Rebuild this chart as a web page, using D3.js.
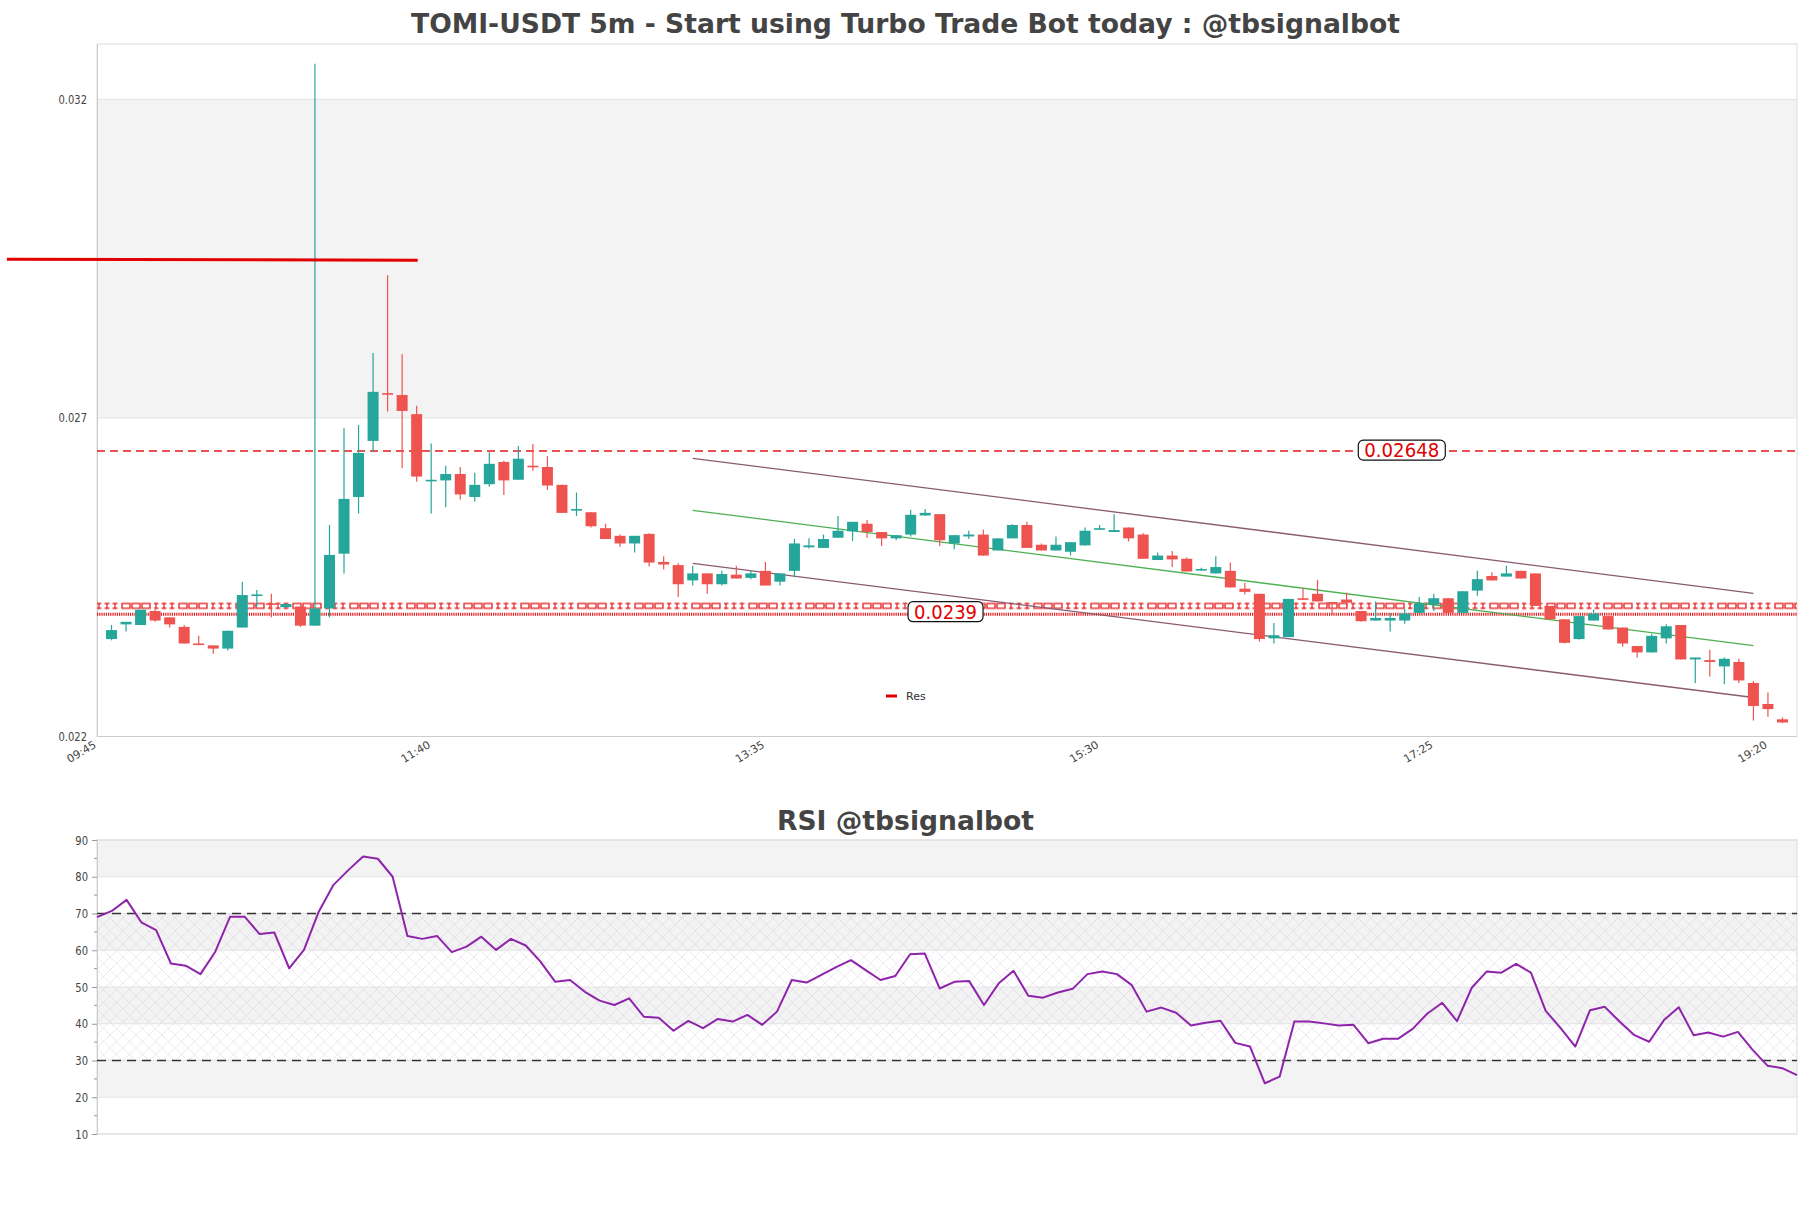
<!DOCTYPE html>
<html><head><meta charset="utf-8">
<script src="https://cdn.jsdelivr.net/npm/d3@7/dist/d3.min.js"></script>
<style>body{margin:0;background:#fff;} svg{display:block;font-family:'DejaVu Sans',sans-serif;}</style>
</head><body><svg id="c" width="1811" height="1208"></svg>
<script>
// ---------- DATA ----------
const chartTitle = "TOMI-USDT 5m - Start using Turbo Trade Bot today : @tbsignalbot";
const rsiTitle = "RSI @tbsignalbot";
const nCategories = 118;            // 09:45 ... 19:30 (5m)
const candleStart = 1;              // first candle sits on category 1
const xTickLabels = ["09:45","11:40","13:35","15:30","17:25","19:20"];
const xTickIndex = [0,23,46,69,92,115];
const yTicks = [0.022,0.027,0.032];
const rsiTicks = [10,20,30,40,50,60,70,80,90];

const open = [.02353,.02376,.02375,.02397,.02387,.02372,.02346,.02343,.02338,.02371,
.02422,.02409,.02403,.02404,.02374,.02401,.02487,.02576,.02664,.02739,
.02736,.02706,.02601,.02602,.02612,.02576,.02596,.02631,.02603,.02625,
.02623,.02595,.02556,.02552,.02527,.02515,.02503,.02518,.02474,.02469,
.02445,.02456,.02439,.02454,.02449,.02460,.02443,.02460,.02497,.02496,
.02512,.02522,.02534,.02521,.02511,.02517,.02547,.02549,.02503,.02514,
.02517,.02492,.02511,.02532,.02501,.02492,.02490,.02500,.02525,.02521,
.02528,.02517,.02477,.02484,.02479,.02462,.02456,.02460,.02432,.02424,
.02354,.02356,.02417,.02424,.02411,.02415,.02397,.02382,.02382,.02382,
.02394,.02407,.02417,.02394,.02429,.02452,.02451,.02460,.02456,.02405,
.02384,.02353,.02382,.02389,.02371,.02342,.02332,.02354,.02375,.02321,
.02320,.02310,.02317,.02284,.02251,.02227];
const close = [.02367,.02380,.02399,.02382,.02376,.02346,.02344,.02338,.02366,.02422,
.02423,.02407,.02408,.02374,.02401,.02485,.02573,.02645,.02741,.02737,
.02711,.02608,.02603,.02612,.02580,.02595,.02628,.02602,.02636,.02623,
.02594,.02551,.02557,.02530,.02510,.02503,.02515,.02473,.02470,.02439,
.02456,.02439,.02455,.02448,.02456,.02437,.02456,.02503,.02500,.02510,
.02523,.02537,.02521,.02511,.02516,.02548,.02551,.02508,.02516,.02517,
.02484,.02511,.02532,.02496,.02492,.02501,.02505,.02523,.02527,.02524,
.02511,.02479,.02484,.02478,.02459,.02463,.02466,.02434,.02427,.02353,
.02359,.02416,.02415,.02412,.02410,.02410,.02381,.02386,.02386,.02393,
.02409,.02417,.02394,.02428,.02447,.02445,.02456,.02448,.02405,.02384,
.02347,.02389,.02393,.02368,.02346,.02332,.02358,.02373,.02321,.02324,
.02317,.02322,.02288,.02248,.02243,.02222];
const high = [.02375,.02380,.02399,.02399,.02387,.02375,.02358,.02343,.02366,.02443,
.02430,.02424,.02409,.02404,.03256,.02532,.02684,.02689,.02802,.02924,
.02800,.02719,.02660,.02625,.02623,.02614,.02646,.02633,.02656,.02659,
.02640,.02595,.02583,.02552,.02534,.02517,.02515,.02519,.02483,.02472,
.02468,.02456,.02460,.02468,.02460,.02474,.02456,.02510,.02511,.02517,
.02546,.02537,.02540,.02521,.02516,.02556,.02557,.02549,.02516,.02523,
.02525,.02511,.02533,.02537,.02503,.02514,.02505,.02528,.02532,.02549,
.02528,.02519,.02489,.02491,.02481,.02465,.02483,.02473,.02441,.02424,
.02378,.02416,.02433,.02446,.02411,.02426,.02397,.02412,.02394,.02401,
.02419,.02424,.02417,.02428,.02460,.02458,.02468,.02460,.02456,.02405,
.02384,.02389,.02399,.02389,.02371,.02342,.02361,.02376,.02375,.02324,
.02336,.02324,.02322,.02287,.02269,.02230];
const low = [.02351,.02365,.02375,.02380,.02371,.02346,.02344,.02330,.02335,.02371,
.02404,.02387,.02402,.02372,.02374,.02387,.02456,.02550,.02646,.02710,
.02621,.02600,.02550,.02560,.02572,.02569,.02592,.02579,.02603,.02617,
.02587,.02551,.02546,.02528,.02510,.02498,.02489,.02467,.02462,.02419,
.02437,.02424,.02437,.02448,.02447,.02437,.02437,.02450,.02495,.02496,
.02512,.02507,.02512,.02499,.02508,.02514,.02546,.02499,.02494,.02510,
.02484,.02492,.02511,.02496,.02492,.02492,.02484,.02500,.02524,.02521,
.02506,.02479,.02477,.02466,.02459,.02460,.02456,.02434,.02423,.02349,
.02346,.02356,.02415,.02412,.02391,.02404,.02380,.02382,.02365,.02377,
.02394,.02397,.02394,.02394,.02421,.02445,.02451,.02448,.02405,.02383,
.02346,.02352,.02382,.02368,.02341,.02324,.02332,.02346,.02321,.02284,
.02294,.02282,.02284,.02225,.02231,.02221];

const rsi = [69.0,70.7,73.7,67.6,65.5,56.4,55.8,53.5,59.6,69.1,
69.1,64.4,64.8,55.1,60.1,70.5,77.8,81.8,85.5,84.9,
80.0,63.9,63.1,63.9,59.5,61.0,63.7,60.1,63.1,61.3,
56.9,51.4,51.9,48.7,46.3,45.1,46.9,41.9,41.6,38.1,
40.8,38.8,41.3,40.6,42.4,39.7,43.3,51.9,51.2,53.3,
55.4,57.3,54.6,51.9,53.0,58.9,59.1,49.6,51.4,51.6,
45.1,51.0,54.4,47.6,47.1,48.5,49.5,53.5,54.2,53.5,
50.5,43.3,44.4,43.0,39.5,40.3,40.8,34.8,33.8,23.8,
25.6,40.6,40.6,40.1,39.5,39.7,34.7,35.9,35.9,38.6,
42.8,45.7,40.7,49.8,54.2,53.9,56.3,53.9,43.5,38.9,
33.8,43.7,44.6,40.6,36.9,35.1,41.0,44.5,36.9,37.6,
36.5,37.8,32.9,28.6,27.9,26.0];
const rsiLevels = [70,30];
const rsiZone = [30,70];

// resistance / support annotations
const resValue = 0.02949, resFrom = -6.2, resTo = 22.07;
const dashLevel = 0.02648, dashLabel = "0.02648", dashLabelAt = 89.8;
const supLevel = 0.02392, supLabel = "0.0239", supLabelAt = 58.4;
const supBandLevel = 0.02405;
// regression channel (category index, price)
const chanX = [41,114];
const chanUpper = [0.026367,0.024248];
const chanMid = [0.025551,0.023425];
const chanLower = [0.024719,0.022612];

// ---------- CHART ----------
const svg = d3.select("#c");
const UP = "#26a69a", DOWN = "#ef5350", BAND = "#f3f3f3", GRID = "#e3e3e3";
const L = 97, R = 1797, T1 = 44, B1 = 736.5, T2 = 840, B2 = 1134;

const x = d3.scaleLinear().domain([0, nCategories-1]).range([L, R]);
const y = d3.scaleLinear().domain([0.022, 0.03287]).range([B1, T1]);
const x2 = d3.scaleLinear().domain([0, rsi.length-1]).range([L, R]);
const y2 = d3.scaleLinear().domain([10, 90]).range([B2, T2]);

const defs = svg.append("defs");
const hatch = defs.append("pattern").attr("id","hatch").attr("patternUnits","userSpaceOnUse")
  .attr("width",13).attr("height",13).attr("x",L).attr("y",T2);
hatch.append("path").attr("d","M0,0L13,13M13,0L0,13").attr("stroke","rgba(190,170,205,0.38)").attr("stroke-width",0.7).attr("fill","none");

// support band pattern  I I I □ □ □
const ySupBand = y(supBandLevel);
const sp = defs.append("pattern").attr("id","supPat").attr("patternUnits","userSpaceOnUse")
  .attr("width",57).attr("height",7).attr("x",L).attr("y",ySupBand-3.5);
[2,10,18].forEach(cx=>{
  sp.append("rect").attr("x",cx-2.5).attr("y",0.5).attr("width",5).attr("height",1.3).attr("fill","#e41a1c");
  sp.append("rect").attr("x",cx-2.5).attr("y",5.2).attr("width",5).attr("height",1.3).attr("fill","#e41a1c");
  sp.append("rect").attr("x",cx-0.6).attr("y",0.5).attr("width",1.2).attr("height",6).attr("fill","#e41a1c");
});
[25,35,45].forEach(bx=>{
  sp.append("rect").attr("x",bx).attr("y",1.1).attr("width",8).attr("height",4.8).attr("fill","none").attr("stroke","#e41a1c").attr("stroke-width",1.3);
});

// titles
svg.append("text").attr("x",905.5).attr("y",33).attr("text-anchor","middle")
  .attr("font-size",27).attr("font-weight","bold").attr("fill","#444")
  .attr("textLength",989).attr("lengthAdjust","spacingAndGlyphs").text(chartTitle);
svg.append("text").attr("x",905.5).attr("y",830).attr("text-anchor","middle")
  .attr("font-size",27).attr("font-weight","bold").attr("fill","#444")
  .attr("textLength",257).attr("lengthAdjust","spacingAndGlyphs").text(rsiTitle);

// ---- main panel ----
const g1 = svg.append("g");
const yBounds = yTicks.concat([y.domain()[1]]);
for (let i=0;i<yBounds.length-1;i++){
  g1.append("rect").attr("x",L).attr("width",R-L)
    .attr("y",y(yBounds[i+1])).attr("height",y(yBounds[i])-y(yBounds[i+1]))
    .attr("fill", i%2===1 ? BAND : "#fff");
}
g1.selectAll("line.grid").data(yTicks.slice(1)).join("line")
  .attr("x1",L).attr("x2",R).attr("y1",d=>y(d)).attr("y2",d=>y(d)).attr("stroke",GRID);
g1.append("rect").attr("x",L).attr("y",T1).attr("width",R-L).attr("height",B1-T1)
  .attr("fill","none").attr("stroke","#dcdcdc");

const yAx = g1.append("g").attr("transform",`translate(${L},0)`)
  .call(d3.axisLeft(y).tickValues(yTicks).tickSize(0).tickPadding(10).tickFormat(d3.format(".3f")));
yAx.select(".domain").attr("stroke","#ccc");
yAx.selectAll("text").attr("font-size",12.5).attr("fill","#444").attr("font-family","DejaVu Sans")
  .attr("x",-10/0.8).attr("transform","scale(0.8,1)");

// x labels
const xl = g1.append("g");
xTickIndex.forEach((ci,k)=>{
  xl.append("text").attr("transform",`translate(${x(ci)-2},${B1+7}) rotate(-31)`)
    .attr("text-anchor","end").attr("dy","0.35em").attr("font-size",11).attr("fill","#444")
    .text(xTickLabels[k]);
});
g1.append("line").attr("x1",L).attr("x2",R).attr("y1",B1).attr("y2",B1).attr("stroke","#ccc");

// support band & dotted line
g1.append("rect").attr("x",L).attr("width",R-L).attr("y",ySupBand-3.5).attr("height",7).attr("fill","url(#supPat)");
g1.append("line").attr("x1",L).attr("x2",R).attr("y1",y(supLevel)).attr("y2",y(supLevel))
  .attr("stroke","#e41a1c").attr("stroke-width",3).attr("stroke-dasharray","1.2,1");
g1.append("line").attr("x1",L).attr("x2",R).attr("y1",y(dashLevel)).attr("y2",y(dashLevel))
  .attr("stroke","#e41a1c").attr("stroke-width",1.5).attr("stroke-dasharray","8,5");

// channel
const ch = [[chanUpper,"#8a5a72"],[chanMid,"#4caf50"],[chanLower,"#8a5a72"]];
ch.forEach(([vals,col])=>{
  g1.append("line").attr("x1",x(chanX[0])).attr("x2",x(chanX[1]))
    .attr("y1",y(vals[0])).attr("y2",y(vals[1])).attr("stroke",col).attr("stroke-width",1.3);
});

// candles
const candles = open.map((o,i)=>({i:i+candleStart,o,c:close[i],h:high[i],l:low[i]}));
const cg = g1.append("g");
const bw = 11;
cg.selectAll("line.w").data(candles).join("line")
  .attr("x1",d=>x(d.i)).attr("x2",d=>x(d.i)).attr("y1",d=>y(d.h)).attr("y2",d=>y(d.l))
  .attr("stroke",d=>d.c>=d.o?UP:DOWN).attr("stroke-width",1.2);
cg.selectAll("rect.b").data(candles).join("rect")
  .attr("x",d=>x(d.i)-bw/2).attr("width",bw)
  .attr("y",d=>y(Math.max(d.o,d.c)))
  .attr("height",d=>Math.max(1.6, Math.abs(y(d.o)-y(d.c))))
  .attr("fill",d=>d.c>=d.o?UP:DOWN);

// res line (extends outside the grid)
svg.append("line").attr("x1",x(resFrom)).attr("x2",x(resTo)).attr("y1",y(resValue)).attr("y2",y(resValue)+0.8)
  .attr("stroke","#e00000").attr("stroke-width",3);

// labels with boxes
function boxLabel(cx, cy, txt, w){
  const gg = svg.append("g");
  gg.append("rect").attr("x",cx-w/2).attr("y",cy-10).attr("width",w).attr("height",20).attr("rx",5)
    .attr("fill","#fff").attr("stroke","#111").attr("stroke-width",1.2);
  gg.append("text").attr("x",cx).attr("y",cy).attr("text-anchor","middle").attr("dy","0.36em")
    .attr("font-size",19).attr("fill","#e00000").attr("textLength",w-12).attr("lengthAdjust","spacingAndGlyphs").text(txt);
}
boxLabel(x(dashLabelAt), y(dashLevel)-1, dashLabel, 87);
boxLabel(x(supLabelAt), y(supLevel)-2.5, supLabel, 75);

// legend
svg.append("line").attr("x1",886).attr("x2",897).attr("y1",696).attr("y2",696).attr("stroke","#d00").attr("stroke-width",3);
svg.append("text").attr("x",906).attr("y",696).attr("dy","0.35em").attr("font-size",11).attr("fill","#333").text("Res");

// ---- RSI panel ----
const g2 = svg.append("g");
for (let i=0;i<rsiTicks.length-1;i++){
  g2.append("rect").attr("x",L).attr("width",R-L)
    .attr("y",y2(rsiTicks[i+1])).attr("height",y2(rsiTicks[i])-y2(rsiTicks[i+1]))
    .attr("fill", i%2===1 ? BAND : "#fff");
}
g2.append("rect").attr("x",L).attr("width",R-L).attr("y",y2(rsiZone[1])).attr("height",y2(rsiZone[0])-y2(rsiZone[1]))
  .attr("fill","url(#hatch)");
g2.selectAll("line.grid").data(rsiTicks).join("line")
  .attr("x1",L).attr("x2",R).attr("y1",d=>y2(d)).attr("y2",d=>y2(d)).attr("stroke",GRID);
g2.append("rect").attr("x",L).attr("y",T2).attr("width",R-L).attr("height",B2-T2)
  .attr("fill","none").attr("stroke","#dcdcdc");
const rAx = g2.append("g").attr("transform",`translate(${L},0)`)
  .call(d3.axisLeft(y2).tickValues(rsiTicks).tickSize(5).tickPadding(4));
rAx.select(".domain").attr("stroke","#ccc");
rAx.selectAll(".tick line").attr("stroke","#999");
rAx.selectAll("text").attr("font-size",12.5).attr("fill","#444").attr("font-family","DejaVu Sans")
  .attr("x",-9/0.8).attr("transform","scale(0.8,1)");
const minorTicks = rsiTicks.slice(0,-1).map(v=>v+5);
g2.selectAll("line.minor").data(minorTicks).join("line")
  .attr("x1",L-3).attr("x2",L).attr("y1",d=>y2(d)).attr("y2",d=>y2(d)).attr("stroke","#999");
g2.selectAll("line.lvl").data(rsiLevels).join("line")
  .attr("x1",L).attr("x2",R).attr("y1",d=>y2(d)).attr("y2",d=>y2(d))
  .attr("stroke","#333").attr("stroke-width",1.3).attr("stroke-dasharray","9,6");
g2.append("path").datum(rsi)
  .attr("d", d3.line().x((d,i)=>x2(i)).y(d=>y2(d)))
  .attr("fill","none").attr("stroke","#8e24aa").attr("stroke-width",2).attr("stroke-linejoin","round");
</script></body></html>
